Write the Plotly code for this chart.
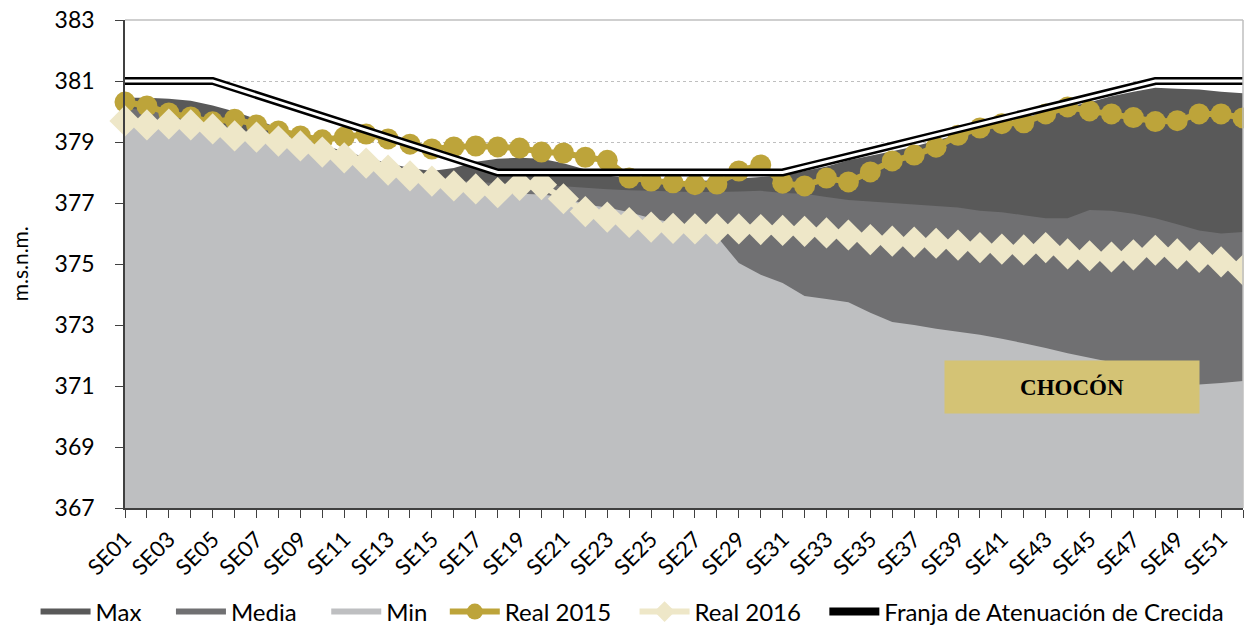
import plotly.graph_objects as go

# Weeks SE01..SE52
weeks = [f"SE{i:02d}" for i in range(1, 53)]
tick_text = [w if i % 2 == 0 else "" for i, w in enumerate(weeks)]

# Historical envelope (m.s.n.m.)
max_vals = [380.45, 380.45, 380.42, 380.35, 380.2, 380.0, 379.75, 379.45, 379.15, 378.9,
            378.7, 378.5, 378.3, 378.15, 378.05, 378.15, 378.35, 378.45, 378.48, 378.45,
            378.3, 378.1, 377.9, 377.8, 377.75, 377.72, 377.72, 377.75, 377.8, 377.85,
            377.9, 378.05, 378.2, 378.4, 378.55, 378.7, 378.85, 379.05, 379.25, 379.45,
            379.6, 379.8, 379.95, 380.15, 380.3, 380.5, 380.65, 380.78, 380.75, 380.72,
            380.65, 380.6]
media_vals = [380.1, 380.05, 379.95, 379.85, 379.7, 379.45, 379.3, 379.15, 378.95, 378.75,
              378.55, 378.35, 378.15, 378.0, 377.85, 377.75, 377.7, 377.65, 377.65, 377.6,
              377.55, 377.5, 377.45, 377.42, 377.4, 377.38, 377.36, 377.36, 377.38, 377.4,
              377.33, 377.3, 377.2, 377.1, 377.05, 377.0, 376.95, 376.9, 376.85, 376.75,
              376.7, 376.6, 376.5, 376.5, 376.77, 376.75, 376.65, 376.5, 376.3, 376.1,
              376.0, 376.05]
min_vals = [379.5, 379.45, 379.45, 379.4, 379.3, 379.1, 379.0, 378.9, 378.75, 378.55,
            378.4, 378.2, 378.0, 377.8, 377.65, 377.5, 377.4, 377.3, 377.3, 377.28,
            377.2, 376.95, 376.85, 376.7, 376.5, 376.35, 376.2, 375.9, 375.03, 374.65,
            374.38, 373.95, 373.85, 373.75, 373.4, 373.1, 373.0, 372.88, 372.78, 372.68,
            372.55, 372.4, 372.25, 372.07, 371.93, 371.78, 371.6, 371.4, 371.2, 371.05,
            371.1, 371.16]

real_2015 = [380.31, 380.18, 379.95, 379.82, 379.66, 379.75, 379.56, 379.36, 379.2, 379.07,
             379.16, 379.26, 379.1, 378.93, 378.77, 378.84, 378.87, 378.84, 378.8, 378.67,
             378.64, 378.5, 378.4, 377.82, 377.72, 377.66, 377.6, 377.62, 378.05, 378.25,
             377.65, 377.56, 377.82, 377.69, 378.02, 378.38, 378.57, 378.83, 379.22, 379.46,
             379.6, 379.63, 379.92, 380.15, 380.02, 379.92, 379.8, 379.67, 379.7, 379.92,
             379.92, 379.79]
real_2016 = [379.69, 379.56, 379.59, 379.56, 379.43, 379.2, 379.16, 379.03, 378.87, 378.67,
             378.48, 378.31, 378.08, 377.89, 377.72, 377.56, 377.46, 377.34, 377.58, 377.6,
             377.14, 376.72, 376.54, 376.36, 376.21, 376.17, 376.15, 376.15, 376.15, 376.13,
             376.1, 376.07, 376.02, 375.95, 375.8, 375.75, 375.72, 375.68, 375.62, 375.54,
             375.49, 375.46, 375.54, 375.33, 375.27, 375.23, 375.3, 375.45, 375.33, 375.22,
             375.07, 374.8]

# Flood attenuation band
franja = [381.0, 381.0, 381.0, 381.0, 381.0, 380.77, 380.54, 380.31, 380.08, 379.85,
          379.62, 379.38, 379.15, 378.92, 378.69, 378.46, 378.23, 378.0, 378.0, 378.0,
          378.0, 378.0, 378.0, 378.0, 378.0, 378.0, 378.0, 378.0, 378.0, 378.0,
          378.0, 378.18, 378.35, 378.53, 378.71, 378.88, 379.06, 379.24, 379.41, 379.59,
          379.76, 379.94, 380.12, 380.29, 380.47, 380.65, 380.82, 381.0, 381.0, 381.0,
          381.0, 381.0]

NB = "\u00a0"  # legend spacing

fig = go.Figure()

# Areas (drawn back to front)
for name, vals, col, pad in [("Max", max_vals, "#595959", 4),
                             ("Media", media_vals, "#707072", 4),
                             ("Min", min_vals, "#BEBFC1", 2)]:
    fig.add_trace(go.Scatter(x=weeks, y=vals, name=name + NB * pad, mode="none",
                             fill="tozeroy", fillcolor=col))

# Real series
fig.add_trace(go.Scatter(x=weeks, y=real_2015, name="Real 2015" + NB * 3,
                         mode="lines+markers",
                         line=dict(color="#BDA43A", width=6),
                         marker=dict(symbol="circle", size=21, color="#BDA43A"),
                         cliponaxis=False))
fig.add_trace(go.Scatter(x=weeks, y=real_2016, name="Real 2016" + NB * 3,
                         mode="lines+markers",
                         line=dict(color="#EEE7C8", width=6),
                         marker=dict(symbol="diamond", size=24, color="#EEE7C8"),
                         cliponaxis=False))

# Band: black outer + white inner line
fig.add_trace(go.Scatter(x=weeks, y=franja, name="Franja de Atenuación de Crecida",
                         mode="lines", line=dict(color="black", width=8),
                         cliponaxis=False))
fig.add_trace(go.Scatter(x=weeks, y=franja, mode="lines", showlegend=False,
                         line=dict(color="white", width=3), cliponaxis=False))

# CHOCÓN label box
fig.add_annotation(xref="paper", yref="paper", x=0.847, y=0.248,
                   xanchor="center", yanchor="middle",
                   text="<b>CHOCÓN</b>", showarrow=False,
                   width=252, height=50, bgcolor="#D4C375",
                   align="center", valign="middle",
                   font=dict(family="Liberation Serif", size=23, color="black"))

# y-axis title
fig.add_annotation(xref="paper", yref="paper", x=-0.0945, y=0.5,
                   xanchor="center", yanchor="middle",
                   text="m.s.n.m.", textangle=-90, showarrow=False,
                   font=dict(size=21))

# top / right border of plot area
fig.add_shape(type="line", xref="paper", yref="paper", x0=1, x1=1, y0=0, y1=1,
              line=dict(color="#BFBFBF", width=1.5), layer="above")
fig.add_shape(type="line", xref="paper", yref="paper", x0=0, x1=1, y0=1, y1=1,
              line=dict(color="#BFBFBF", width=1.5), layer="above")

fig.update_layout(
    width=1244, height=619,
    margin=dict(l=117, r=9, t=12, b=119, autoexpand=False),
    paper_bgcolor="white", plot_bgcolor="white",
    font=dict(family="Lato", color="black"),
    showlegend=True,
    legend=dict(orientation="h", x=-0.08, xanchor="left", y=-0.213, yanchor="middle",
                font=dict(size=24), itemwidth=50, tracegroupgap=0),
)

fig.update_xaxes(
    type="category", range=[0, 51], automargin=False,
    tickmode="array", tickvals=weeks, ticktext=tick_text,
    tickangle=-45, tickfont=dict(size=22),
    ticks="outside", ticklen=8, tickcolor="#404040",
    showline=True, linecolor="#404040", linewidth=1.5,
    showgrid=False, zeroline=False,
)
fig.update_yaxes(
    range=[367, 383], dtick=2, tick0=367, automargin=False,
    tickfont=dict(size=23), ticklabelstandoff=16, ticklabeloverflow="allow",
    ticks="outside", ticklen=8, tickcolor="#404040",
    showline=True, linecolor="#404040", linewidth=1.5,
    showgrid=True, gridcolor="#BFBFBF", griddash="dot", gridwidth=1,
    zeroline=False,
)

fig.write_html("out.html")
